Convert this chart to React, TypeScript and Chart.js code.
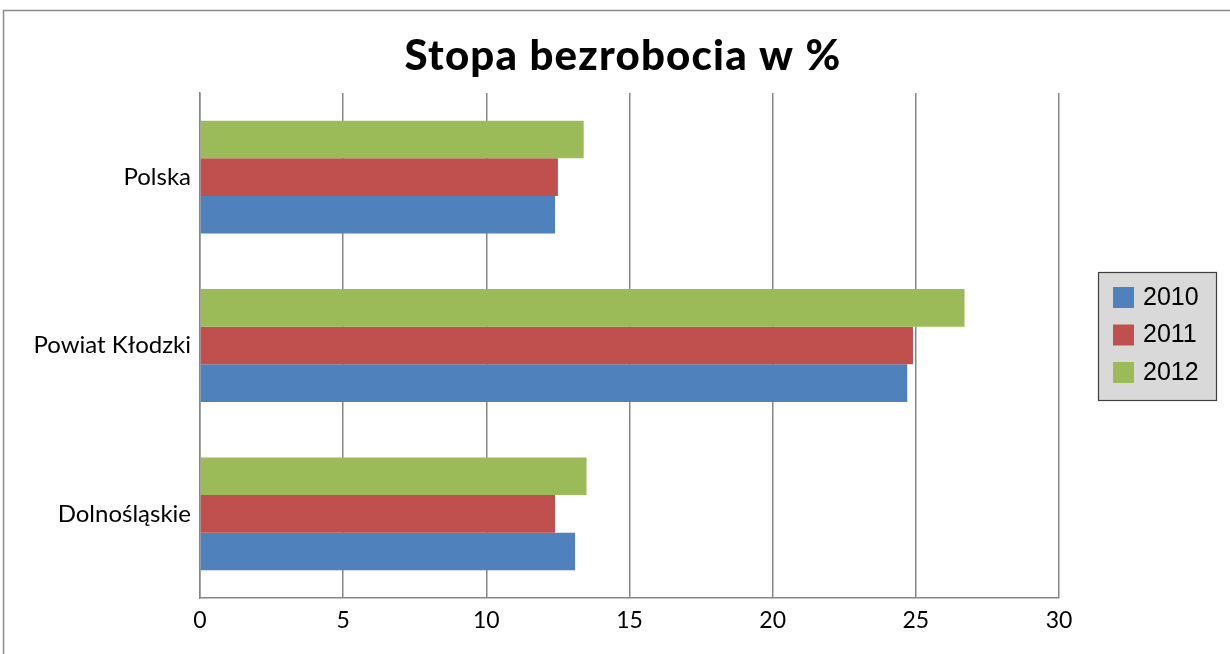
import React, { useEffect, useRef } from "react";
import { Chart, registerables } from "chart.js";

Chart.register(...registerables);

const categories = ["Polska", "Powiat Kłodzki", "Dolnośląskie"];
const years = ["2010", "2011", "2012"];
const values2010 = [12.4, 24.7, 13.1];
const values2011 = [12.5, 24.9, 12.4];
const values2012 = [13.4, 26.7, 13.5];
const xTicks = [0, 5, 10, 15, 20, 25, 30];
const colors = ["#4F81BD", "#C0504D", "#9BBB59"];
const titleText = "Stopa bezrobocia w %";

const decorPlugin = {
  id: "decor",
  beforeDraw(chart: any) {
    const ctx = chart.ctx;
    ctx.save();
    ctx.fillStyle = "#ffffff";
    ctx.fillRect(0, 0, chart.width, chart.height);
    ctx.strokeStyle = "#8c8c8c";
    ctx.lineWidth = 1.5;
    ctx.strokeRect(3.5, 10.5, chart.width + 20, chart.height + 20);
    ctx.restore();
  },
  afterDraw(chart: any) {
    const ctx = chart.ctx;
    ctx.save();
    // title
    ctx.fillStyle = "#000000";
    ctx.font = "900 42px Lato";
    (ctx as any).letterSpacing = "1.2px";
    ctx.textAlign = "center";
    ctx.textBaseline = "middle";
    ctx.fillText(titleText, 623, 56);
    (ctx as any).letterSpacing = "0px";
    // legend
    const lx = 1098, ly = 272, lw = 118, lh = 128;
    ctx.fillStyle = "#D9D9D9";
    ctx.fillRect(lx, ly, lw, lh);
    ctx.strokeStyle = "#404040";
    ctx.lineWidth = 1.2;
    ctx.strokeRect(lx + 0.5, ly + 0.5, lw, lh);
    ctx.font = "25px 'Liberation Sans'";
    ctx.textAlign = "left";
    ctx.textBaseline = "middle";
    years.forEach((y, i) => {
      const cy = 297 + i * 37.5;
      ctx.fillStyle = colors[i];
      ctx.fillRect(1113, cy - 10, 21, 21);
      ctx.fillStyle = "#000000";
      ctx.fillText(y, 1143, cy + 1);
    });
    ctx.restore();
  },
};

export default function App() {
  const ref = useRef<HTMLCanvasElement>(null);
  useEffect(() => {
    if (!ref.current) return;
    const chart = new Chart(ref.current, {
      type: "bar",
      data: {
        labels: categories,
        datasets: [
          { label: years[2], data: values2012, backgroundColor: colors[2] },
          { label: years[1], data: values2011, backgroundColor: colors[1] },
          { label: years[0], data: values2010, backgroundColor: colors[0] },
        ],
      },
      options: {
        indexAxis: "y",
        responsive: false,
        animation: false,
        layout: { padding: { top: 93, right: 171, left: 0, bottom: 0 } },
        datasets: { bar: { categoryPercentage: 0.67, barPercentage: 1 } },
        plugins: { legend: { display: false }, title: { display: false }, tooltip: { enabled: false } },
        scales: {
          x: {
            min: 0,
            max: 30,
            afterBuildTicks: (scale: any) => {
              scale.ticks = xTicks.map((v) => ({ value: v }));
            },
            afterFit: (scale: any) => {
              scale.height = 56;
            },
            grid: { color: "#868686", lineWidth: 1.5, drawTicks: false },
            border: { color: "#868686", width: 1.5 },
            ticks: { color: "#000", font: { family: "Lato", size: 23 }, padding: 9 },
          },
          y: {
            afterFit: (scale: any) => {
              scale.width = 200;
            },
            grid: { display: false, drawTicks: false },
            border: { color: "#868686", width: 1.5 },
            ticks: { color: "#000", font: { family: "Lato", size: 24 }, padding: 9 },
          },
        },
      },
      plugins: [decorPlugin],
    } as any);
    return () => chart.destroy();
  }, []);
  return (
    <div style={{ position: "absolute", left: 0, top: 0, width: 1230, height: 654 }}>
      <canvas ref={ref} width={1230} height={654} />
    </div>
  );
}
